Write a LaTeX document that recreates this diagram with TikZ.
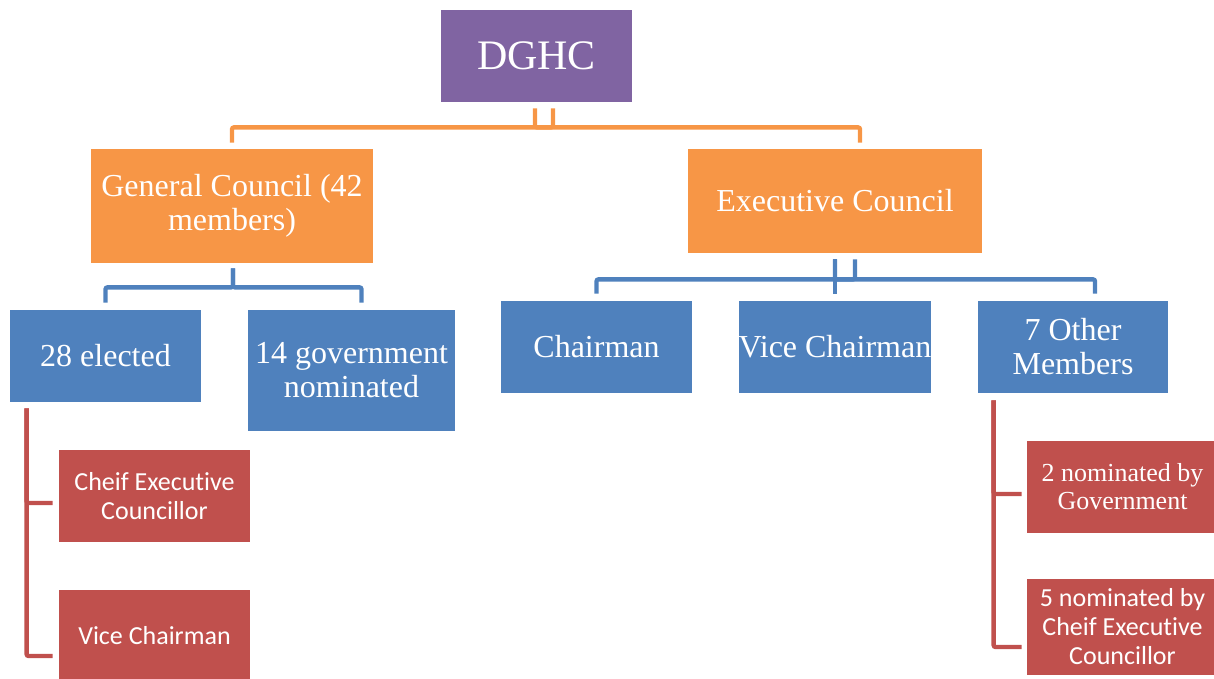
\documentclass[tikz,border=0pt]{standalone}
\usepackage{fontspec}
\setmainfont{Liberation Serif}
\newfontfamily\calibri[Ligatures=NoCommon]{Carlito}
\usetikzlibrary{calc}
\definecolor{dghcpurple}{HTML}{8064A2}
\definecolor{orng}{HTML}{F79646}
\definecolor{blu}{HTML}{4F81BD}
\definecolor{rd}{HTML}{C0504D}
\tikzset{
  box/.style={fill=#1, text=white, inner sep=0pt, align=center},
  conn/.style={draw=#1, line width=2.2pt, rounded corners=1pt},
  bigtxt/.style={font=\fontsize{16}{17}\selectfont},
  smalltxt/.style={font=\fontsize{13}{14}\selectfont},
  sanstxt/.style={font=\calibri\fontsize{13}{14.5}\selectfont},
}
\begin{document}
\begin{tikzpicture}[x=0.5pt,y=-0.5pt]
\useasboundingbox (0,0) rectangle (1214,679);
% top
\node[box=dghcpurple, minimum width=95.5pt, minimum height=46pt, font=\fontsize{21}{24}\selectfont] (dghc) at (536.5,56) {DGHC};
% councils
\node[box=orng, bigtxt, minimum width=141pt, minimum height=57pt] (gen) at (232,206) {General Council (42\\members)};
\node[box=orng, bigtxt, minimum width=147pt, minimum height=52pt] (exe) at (835,201) {Executive Council};
% members
\node[box=blu, bigtxt, minimum width=95.5pt, minimum height=46pt] (elec) at (105.5,356) {28 elected};
\node[box=blu, bigtxt, minimum width=103.5pt, minimum height=60.5pt] (gov) at (351.5,370.5) {14 government\\nominated};
\node[box=blu, bigtxt, minimum width=95.5pt, minimum height=46pt] (chair) at (596.5,347) {Chairman};
\node[box=blu, bigtxt, minimum width=95pt, minimum height=46pt] (vice) at (835,347) {Vice Chairman};
\node[box=blu, bigtxt, minimum width=95pt, minimum height=46pt] (other) at (1073,347) {7 Other\\Members};
% posts
\node[box=rd, sanstxt, minimum width=95.5pt, minimum height=46pt] (cec) at (154.5,496) {Cheif Executive\\Councillor};
\node[box=rd, sanstxt, minimum width=95.5pt, minimum height=46pt] (vcr) at (154.5,636) {Vice Chairman};
\node[box=rd, smalltxt, minimum width=95.5pt, minimum height=46pt] (nomgov) at (1122.5,487) {2 nominated by\\Government};
\node[box=rd, sanstxt, minimum width=95.5pt, minimum height=48pt] (nomcec) at (1122.5,627) {5 nominated by\\Cheif Executive\\Councillor};
% connectors
\draw[conn=orng] ($(dghc.south)+(16.5,6)$) -- ++(0,19) -| ($(gen.north)+(0,-6)$);
\draw[conn=orng] ($(dghc.south)+(-1.5,6)$) -- ++(0,19) -| ($(exe.north)+(25,-6)$);
\draw[conn=blu] ($(gen.south)+(1,5)$) -- ++(0,19) -| ($(elec.north)+(0,-7)$);
\draw[conn=blu] ($(gen.south)+(1,5)$) -- ++(0,19) -| ($(gov.north)+(10,-7)$);
\draw[conn=blu] ($(exe.south)+(20,6)$) -- ++(0,20) -| ($(chair.north)+(0,-7)$);
\draw[conn=blu] ($(exe.south)+(0,6)$) -- ($(vice.north)+(0,-7)$);
\draw[conn=blu] ($(exe.south)+(0,6)$) -- ++(0,20) -| ($(other.north)+(22,-7)$);
\draw[conn=rd] ($(elec.south west)+(17,6)$) |- ($(cec.west)+(-6,7)$);
\draw[conn=rd] ($(elec.south west)+(17,6)$) |- ($(vcr.west)+(-6,20)$);
\draw[conn=rd] ($(other.south west)+(16,7)$) |- ($(nomgov.west)+(-5,7)$);
\draw[conn=rd] ($(other.south west)+(16,7)$) |- ($(nomcec.west)+(-5,20)$);
\end{tikzpicture}
\end{document}
